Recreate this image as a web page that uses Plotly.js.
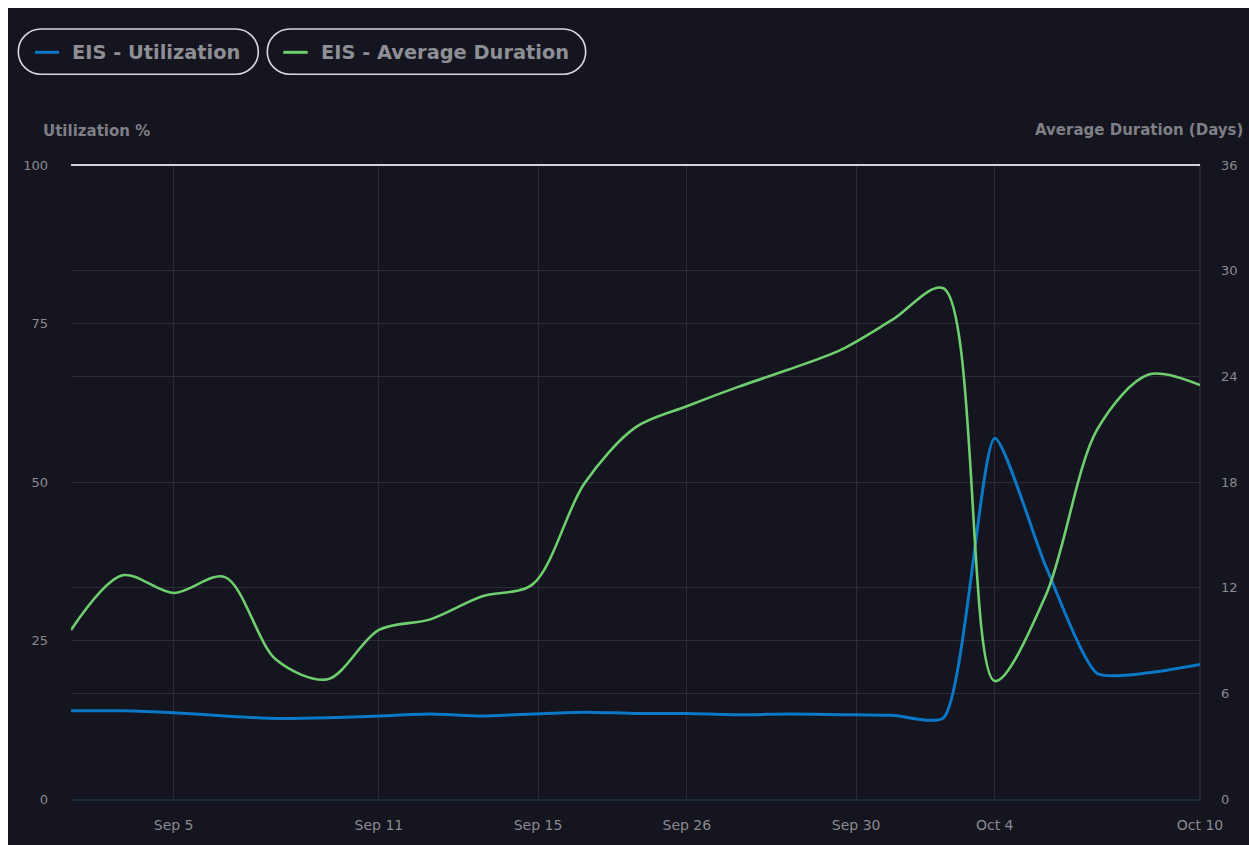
<!DOCTYPE html>
<html>
<head>
<meta charset="utf-8">
<script src="https://cdn.plot.ly/plotly-3.0.1.min.js"></script>
<style>
  html, body { margin: 0; padding: 0; background: #ffffff; overflow: hidden; }
  #wrap { position: absolute; left: 8px; top: 8px; width: 1241px; height: 837px; background: #14151f; }
  #chart { width: 1241px; height: 837px; }
</style>
</head>
<body>
<div id="wrap"><div id="chart"></div></div>
<script>
// ---- data ----
var pointIndex = [0, 1, 2, 3, 4, 5, 6, 7, 8, 9, 10, 11, 12, 13, 14, 15, 16, 17, 18, 19, 20, 21, 22];
var utilization = [13.9, 13.9, 13.6, 13.1, 12.7, 12.8, 13.1, 13.4, 13.1, 13.4, 13.7, 13.5, 13.5, 13.3, 13.4, 13.3, 13.2, 12.8, 56.9, 36.6, 19.8, 19.9, 21.2];
var avgDuration = [9.6, 12.7, 11.7, 12.6, 7.9, 6.8, 9.6, 10.2, 11.5, 12.2, 17.9, 21.1, 22.3, 23.4, 24.4, 25.5, 27.2, 29.0, 6.7, 11.6, 21.0, 24.1, 23.5];
var tickLabels = ["Sep 5", "Sep 11", "Sep 15", "Sep 26", "Sep 30", "Oct 4", "Oct 10"];
var tickPositions = [2, 6, 9.1, 12, 15.3, 18, 22];
var leftTicks = [0, 25, 50, 75, 100];
var seriesNames = ["EIS - Utilization", "EIS - Average Duration"];
var seriesColors = ["#0a78c6", "#6fcf6f"];

// ---- geometry helpers (div pixels -> paper) ----
var W = 1241, H = 837;
var M = {l: 63, r: 49, t: 157, b: 46};
var PW = W - M.l - M.r, PH = H - M.t - M.b;
function px(x) { return (x - M.l) / PW; }
function py(y) { return (H - M.b - y) / PH; }
function pill(x0, y0, x1, y1) {
  var r = (y1 - y0) / 2, k = 0.5523 * r;
  var p = [];
  p.push('M' + px(x0 + r) + ',' + py(y0));
  p.push('L' + px(x1 - r) + ',' + py(y0));
  p.push('C' + px(x1 - r + k) + ',' + py(y0) + ' ' + px(x1) + ',' + py(y0 + r - k) + ' ' + px(x1) + ',' + py(y0 + r));
  p.push('C' + px(x1) + ',' + py(y0 + r + k) + ' ' + px(x1 - r + k) + ',' + py(y1) + ' ' + px(x1 - r) + ',' + py(y1));
  p.push('L' + px(x0 + r) + ',' + py(y1));
  p.push('C' + px(x0 + r - k) + ',' + py(y1) + ' ' + px(x0) + ',' + py(y1 - r + k) + ' ' + px(x0) + ',' + py(y1 - r));
  p.push('C' + px(x0) + ',' + py(y0 + r - k) + ' ' + px(x0 + r - k) + ',' + py(y0) + ' ' + px(x0 + r) + ',' + py(y0));
  p.push('Z');
  return p.join(' ');
}

var FONT = "DejaVu Sans, Verdana, sans-serif";
var gridColor = "#2b2c36";

var traces = [
  {
    x: pointIndex, y: utilization, name: seriesNames[0], type: 'scatter', mode: 'lines',
    line: {color: seriesColors[0], width: 3, shape: 'spline', smoothing: 0.6},
    yaxis: 'y', hoverinfo: 'skip'
  },
  {
    x: pointIndex, y: avgDuration, name: seriesNames[1], type: 'scatter', mode: 'lines',
    line: {color: seriesColors[1], width: 2.6, shape: 'spline', smoothing: 0.9},
    yaxis: 'y2', hoverinfo: 'skip'
  }
];

var legendItems = [
  {box: [10.3, 21, 250.3, 66.3], line: [27, 51], text: 63.7},
  {box: [259.3, 21, 577.7, 66.3], line: [275.3, 299.7], text: 313}
];

var shapes = [];
var annotations = [];
legendItems.forEach(function (it, i) {
  shapes.push({type: 'path', xref: 'paper', yref: 'paper', path: pill(it.box[0], it.box[1], it.box[2], it.box[3]),
    line: {color: '#d9d9dc', width: 1.6}, fillcolor: 'rgba(0,0,0,0)', layer: 'above'});
  shapes.push({type: 'line', xref: 'paper', yref: 'paper', x0: px(it.line[0]), x1: px(it.line[1]), y0: py(44.3), y1: py(44.3),
    line: {color: seriesColors[i], width: 3}, layer: 'above'});
  annotations.push({xref: 'paper', yref: 'paper', x: px(it.text - 2), y: py(44.3), xanchor: 'left', yanchor: 'middle',
    text: seriesNames[i], showarrow: false, font: {family: FONT, size: 19.4, color: '#8e8e95', weight: 'bold'}});
});
// top border line at 100%
shapes.push({type: 'line', xref: 'paper', yref: 'paper', x0: 0, x1: 1, y0: 1, y1: 1, line: {color: '#d4d4d8', width: 2}, layer: 'above'});
// right edge line
shapes.push({type: 'line', xref: 'paper', yref: 'paper', x0: 1, x1: 1, y0: 0, y1: 1, line: {color: gridColor, width: 1.5}, layer: 'below'});

annotations.push({xref: 'paper', yref: 'paper', x: px(32.5), y: py(122.7), xanchor: 'left', yanchor: 'middle',
  text: 'Utilization %', showarrow: false, font: {family: FONT, size: 15, color: '#7f7f86', weight: 'bold'}});
annotations.push({xref: 'paper', yref: 'paper', x: px(1236.5), y: py(122.3), xanchor: 'right', yanchor: 'middle',
  text: 'Average Duration (Days)', showarrow: false, font: {family: FONT, size: 15, color: '#7f7f86', weight: 'bold'}});

var layout = {
  width: W, height: H,
  margin: M,
  paper_bgcolor: '#14151f', plot_bgcolor: '#14151f',
  showlegend: false,
  font: {family: FONT, color: '#8a8a90'},
  xaxis: {
    range: [pointIndex[0], pointIndex[pointIndex.length - 1]],
    tickmode: 'array', tickvals: tickPositions, ticktext: tickLabels,
    showgrid: true, gridcolor: gridColor, gridwidth: 1,
    zeroline: false, showline: true, linecolor: '#1d2b3d', linewidth: 2,
    ticks: '', ticklabelstandoff: 12,
    tickfont: {family: FONT, size: 14, color: '#8a8a90'}
  },
  yaxis: {
    range: [0, 100], tickmode: 'array', tickvals: leftTicks,
    showgrid: true, gridcolor: gridColor, gridwidth: 1, zeroline: false,
    ticks: '', ticklabelstandoff: 22,
    tickfont: {family: FONT, size: 13, color: '#8a8a90'}
  },
  yaxis2: {
    range: [0, 36], dtick: 6, tick0: 0, overlaying: 'y', side: 'right',
    showgrid: true, gridcolor: gridColor, gridwidth: 1, zeroline: false,
    ticks: '', ticklabelstandoff: 20,
    tickfont: {family: FONT, size: 13, color: '#8a8a90'}
  },
  shapes: shapes,
  annotations: annotations
};

Plotly.newPlot('chart', traces, layout, {displayModeBar: false, staticPlot: true});
</script>
</body>
</html>
